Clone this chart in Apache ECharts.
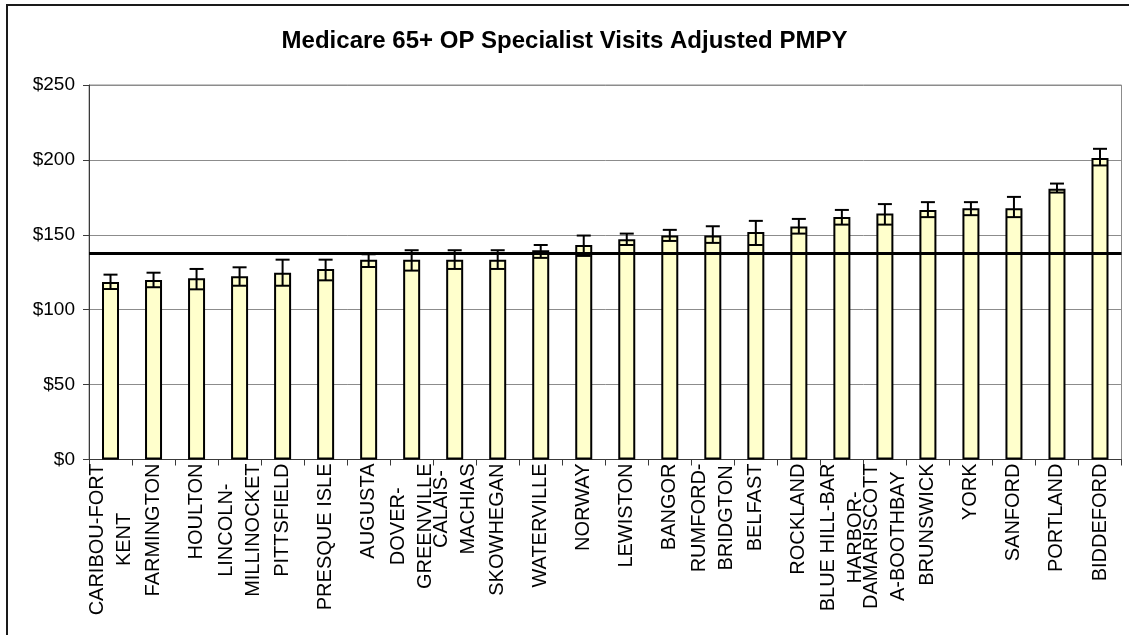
<!DOCTYPE html>
<html>
<head>
<meta charset="utf-8">
<script src="https://cdn.jsdelivr.net/npm/echarts@6/dist/echarts.min.js"></script>
<style>
  html, body { margin: 0; padding: 0; background: #ffffff; }
  #chart { width: 1129px; height: 635px; }
</style>
</head>
<body>
<div id="chart"></div>
<script>
// Hospital service areas, ordered by adjusted outpatient specialist spend
const categories = [
  'CARIBOU-FORT\nKENT', 'FARMINGTON', 'HOULTON', 'LINCOLN-\nMILLINOCKET', 'PITTSFIELD',
  'PRESQUE ISLE', 'AUGUSTA', 'DOVER-\nGREENVILLE', 'CALAIS-\nMACHIAS', 'SKOWHEGAN',
  'WATERVILLE', 'NORWAY', 'LEWISTON', 'BANGOR', 'RUMFORD-\nBRIDGTON', 'BELFAST',
  'ROCKLAND', 'BLUE HILL-BAR\nHARBOR-', 'DAMARISCOTT\nA-BOOTHBAY', 'BRUNSWICK',
  'YORK', 'SANFORD', 'PORTLAND', 'BIDDEFORD'
];

// Adjusted PMPY ($) per service area
const pmpy = [
  118.5, 119.9, 121.0, 122.3, 124.7, 127.2, 133.4, 133.4, 133.4, 133.4,
  139.7, 143.2, 147.1, 149.5, 149.5, 151.9, 155.5, 161.8, 164.2, 166.6,
  167.8, 167.8, 180.7, 201.2
];

// Lower / upper confidence limits ($)
const ciLow = [
  113.8, 115.0, 113.6, 116.0, 116.0, 119.6, 128.5, 126.1, 127.2, 127.2,
  134.6, 135.9, 143.2, 145.9, 144.6, 143.2, 150.8, 156.8, 156.8, 161.8,
  163.1, 161.8, 178.2, 196.3
];
const ciHigh = [
  123.4, 124.7, 127.2, 128.3, 133.4, 133.4, 137.0, 139.7, 139.7, 139.7,
  143.2, 149.5, 150.8, 153.3, 155.7, 159.3, 160.6, 166.6, 170.5, 171.8,
  171.8, 175.3, 184.2, 207.4
];

// Statewide average drawn as a horizontal reference line
const stateAverage = 137.7;

// Value axis range
const yMin = 0;
const yMax = 250;
const yStep = 50;

const FONT = '"Liberation Sans", Arial, sans-serif';

const chart = echarts.init(document.getElementById('chart'), null, { renderer: 'canvas' });

const errorData = categories.map((c, i) => [i, ciLow[i], ciHigh[i]]);

chart.setOption({
  animation: false,
  backgroundColor: '#ffffff',
  title: {
    text: 'Medicare 65+ OP Specialist Visits Adjusted PMPY',
    left: 'center',
    top: 24,
    textStyle: { fontFamily: FONT, fontSize: 24, fontWeight: 'bold', color: '#000000' }
  },
  graphic: [{
    type: 'rect',
    shape: { x: 7, y: 5, width: 1150, height: 660 },
    style: { fill: 'none', stroke: '#1a1a1a', lineWidth: 2 },
    silent: true
  }],
  grid: {
    left: 89, right: 7.5, top: 85, bottom: 175.5,
    containLabel: false,
    outerBoundsMode: 'none',
    show: true,
    borderColor: '#8c8c8c',
    borderWidth: 1
  },
  xAxis: {
    type: 'category',
    data: categories,
    boundaryGap: true,
    axisLine: { show: true, lineStyle: { color: '#3a3a3a', width: 1 } },
    axisTick: { show: true, alignWithLabel: false, interval: 0, length: 6, inside: false,
      lineStyle: { color: '#3a3a3a', width: 1 } },
    axisLabel: {
      interval: 0,
      rotate: 90,
      margin: 4,
      color: '#000000',
      fontFamily: FONT,
      fontSize: 20,
      lineHeight: 27,
      formatter: (v) => v.split('\n').map(s => '{c|' + s + '}').join('\n'),
      rich: { c: { align: 'center', fontFamily: FONT, fontSize: 20, lineHeight: 27, color: '#000000' } }
    },
    splitLine: { show: false }
  },
  yAxis: {
    type: 'value',
    min: yMin, max: yMax, interval: yStep,
    axisLine: { show: true, lineStyle: { color: '#3a3a3a', width: 1 } },
    axisTick: { show: true, length: 6, inside: false, lineStyle: { color: '#3a3a3a', width: 1 } },
    axisLabel: {
      margin: 14,
      color: '#000000',
      fontFamily: FONT,
      fontSize: 19,
      formatter: (v) => '$' + v
    },
    splitLine: { show: true, lineStyle: { color: '#8c8c8c', width: 1 } }
  },
  series: [
    {
      name: 'Adjusted PMPY',
      type: 'bar',
      data: pmpy,
      barWidth: 17,
      itemStyle: { color: '#FFFFCC', borderColor: '#000000', borderWidth: 2 },
      z: 2
    },
    {
      name: 'Confidence interval',
      type: 'custom',
      data: errorData,
      encode: { x: 0, y: [1, 2] },
      z: 3,
      renderItem: (params, api) => {
        const x = api.value(0);
        const lo = api.coord([x, api.value(1)]);
        const hi = api.coord([x, api.value(2)]);
        const half = 7;
        const st = { stroke: '#000000', lineWidth: 2 };
        return {
          type: 'group',
          children: [
            { type: 'line', shape: { x1: lo[0], y1: lo[1], x2: hi[0], y2: hi[1] }, style: st },
            { type: 'line', shape: { x1: hi[0] - half, y1: hi[1], x2: hi[0] + half, y2: hi[1] }, style: st },
            { type: 'line', shape: { x1: lo[0] - half, y1: lo[1], x2: lo[0] + half, y2: lo[1] }, style: st }
          ]
        };
      },
      markLine: {
        silent: true,
        symbol: ['none', 'none'],
        label: { show: false },
        lineStyle: { color: '#000000', width: 3, type: 'solid' },
        data: [{ yAxis: stateAverage }]
      }
    }
  ]
});
</script>
</body>
</html>
